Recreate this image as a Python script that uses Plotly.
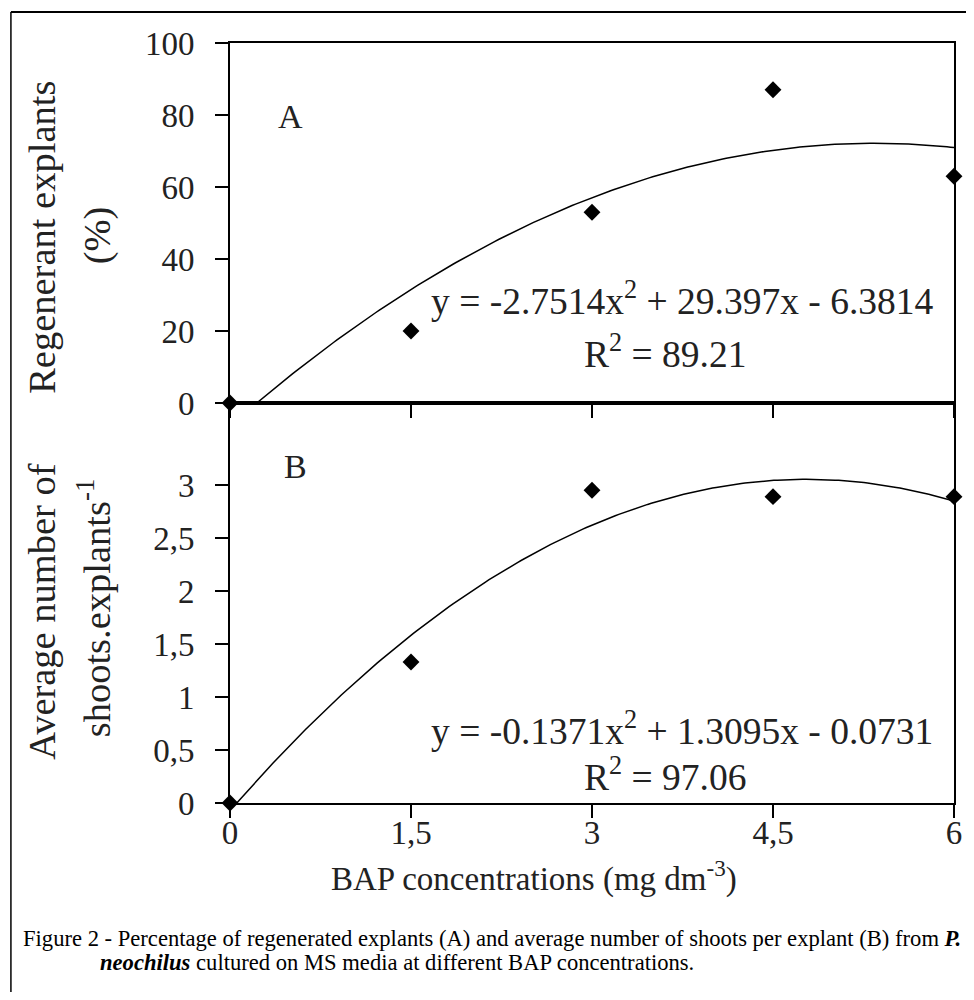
import numpy as np
import plotly.graph_objects as go

# ---- data ----
bap = [0, 1.5, 3, 4.5, 6]
regenerant_pct = [0, 20, 53, 87, 63]
shoots_per_explant = [0, 1.33, 2.95, 2.89, 2.89]

# trendline coefficients printed on the chart (a, b, c for a*x^2 + b*x + c)
coef_a = [-2.7514, 29.397, -6.3814]
coef_b = [-0.1371, 1.3095, -0.0731]
r2_a = "89.21"
r2_b = "97.06"

x_ticks = [0, 1.5, 3, 4.5, 6]
x_ticklabels = ["0", "1,5", "3", "4,5", "6"]
ya_ticks = [0, 20, 40, 60, 80, 100]
yb_ticks = [0, 0.5, 1, 1.5, 2, 2.5, 3]
yb_ticklabels = ["0", "0,5", "1", "1,5", "2", "2,5", "3"]

FONT = "Liberation Serif"


def trend(coefs):
    roots = np.roots(coefs)
    start = max([r.real for r in roots if abs(r.imag) < 1e-9 and 0 <= r.real <= 6] + [0])
    xs = np.linspace(start, 6, 200)
    ys = np.polyval(coefs, xs)
    return xs, ys


OFF = 8  # page body margin
W, H = 974 - OFF, 1000 - 2 * OFF
# plot area in reference (window) pixels
L, R, T, B = 230, 961, 43, 803
split = 403
dom_split = (B - split) / (B - T)


def px(x):
    return (x - L) / (R - L)


def py(y):
    return (B - y) / (B - T)


fig = go.Figure()

xa, ya = trend(coef_a)
xb, yb = trend(coef_b)

fig.add_trace(go.Scatter(x=xa, y=ya, mode="lines", line=dict(color="black", width=1.5),
                         xaxis="x", yaxis="y", hoverinfo="skip", showlegend=False))
fig.add_trace(go.Scatter(x=bap, y=regenerant_pct, mode="markers",
                         marker=dict(symbol="diamond", size=13, color="black"),
                         xaxis="x", yaxis="y", cliponaxis=False, showlegend=False))
fig.add_trace(go.Scatter(x=xb, y=yb, mode="lines", line=dict(color="black", width=1.5),
                         xaxis="x2", yaxis="y2", hoverinfo="skip", showlegend=False))
fig.add_trace(go.Scatter(x=bap, y=shoots_per_explant, mode="markers",
                         marker=dict(symbol="diamond", size=13, color="black"),
                         xaxis="x2", yaxis="y2", cliponaxis=False, showlegend=False))

tickfont = dict(family=FONT, size=33, color="#222")
axis_common = dict(showgrid=False, zeroline=False, showline=True, linecolor="black",
                   linewidth=2, ticks="outside", ticklen=13, tickwidth=2, tickcolor="black",
                   mirror=True, tickfont=tickfont)

fig.update_layout(
    width=W, height=H,
    margin=dict(l=L - OFF, r=W - (R - OFF), t=T - OFF, b=H - (B - OFF), pad=0),
    paper_bgcolor="white", plot_bgcolor="white",
    xaxis=dict(domain=[0, 1], range=[0, 6], anchor="y", tickvals=x_ticks,
               showticklabels=False, **axis_common),
    yaxis=dict(domain=[dom_split, 1], range=[0, 100], anchor="x", tickvals=ya_ticks,
               ticklabelstandoff=14, **axis_common),
    xaxis2=dict(domain=[0, 1], range=[0, 6], anchor="y2", tickvals=x_ticks,
                ticktext=x_ticklabels, ticklabelstandoff=-14, **axis_common),
    yaxis2=dict(domain=[0, dom_split], range=[0, (B - split) / 106.0], anchor="x2",
                tickvals=yb_ticks, ticktext=yb_ticklabels, ticklabelstandoff=14,
                **axis_common),
)

ann_font = dict(family=FONT, size=34, color="#222")
eq_font = dict(family=FONT, size=37.5, color="#222")
title_font = dict(family=FONT, size=38.5, color="#222")
eq_a = "y = %sx<sup>2</sup> + %sx - %s" % (coef_a[0], coef_a[1], abs(coef_a[2]))
eq_b = "y = %sx<sup>2</sup> + %sx - %s" % (coef_b[0], coef_b[1], abs(coef_b[2]))

annotations = [
    dict(x=px(291), y=py(117), text="A", font=ann_font),
    dict(x=px(296), y=py(467), text="B", font=ann_font),
    dict(x=px(687), y=py(298), text=eq_a, font=eq_font),
    dict(x=px(669), y=py(351), text="R<sup>2</sup> = " + r2_a, font=eq_font),
    dict(x=px(686), y=py(728), text=eq_b, font=eq_font),
    dict(x=px(669), y=py(774), text="R<sup>2</sup> = " + r2_b, font=eq_font),
    dict(x=px(40), y=py(237), text="Regenerant explants", textangle=-90, font=title_font),
    dict(x=px(96), y=py(235), text="(%)", textangle=-90, font=title_font),
    dict(x=px(40), y=py(611), text="Average number of", textangle=-90, font=title_font),
    dict(x=px(93), y=py(608), text="shoots.explants<sup>-1</sup>", textangle=-90,
         font=title_font),
    dict(x=px(537), y=py(876), text="BAP concentrations (mg dm<sup>-3</sup>)",
         font=dict(family=FONT, size=33, color="#222")),
]
anns = []
for a in annotations:
    a.update(xref="paper", yref="paper", showarrow=False, xanchor="center", yanchor="middle")
    anns.append(a)

cap_font = dict(family=FONT, size=22.6, color="black")
anns.append(dict(xref="paper", yref="paper", x=px(19), y=py(938), xanchor="left",
                 yanchor="middle", showarrow=False, font=cap_font,
                 text="Figure 2 - Percentage of regenerated explants (A) and average number of "
                      "shoots per explant (B) from <b><i>P.</i></b>"))
anns.append(dict(xref="paper", yref="paper", x=px(97), y=py(962), xanchor="left",
                 yanchor="middle", showarrow=False, font=cap_font,
                 text="<b><i>neochilus</i></b> cultured on MS media at different BAP concentrations."))

fig.update_layout(annotations=anns)

# outer frame around the figure (left and top edges visible)
fig.add_shape(type="line", xref="paper", yref="paper",
              x0=px(8.8), x1=px(1000), y0=py(12), y1=py(12),
              line=dict(color="black", width=2), layer="below")
fig.add_shape(type="line", xref="paper", yref="paper",
              x0=px(8.8), x1=px(8.8), y0=py(12), y1=py(1020),
              line=dict(color="black", width=1.5), layer="below")

fig.write_html("out.html")
